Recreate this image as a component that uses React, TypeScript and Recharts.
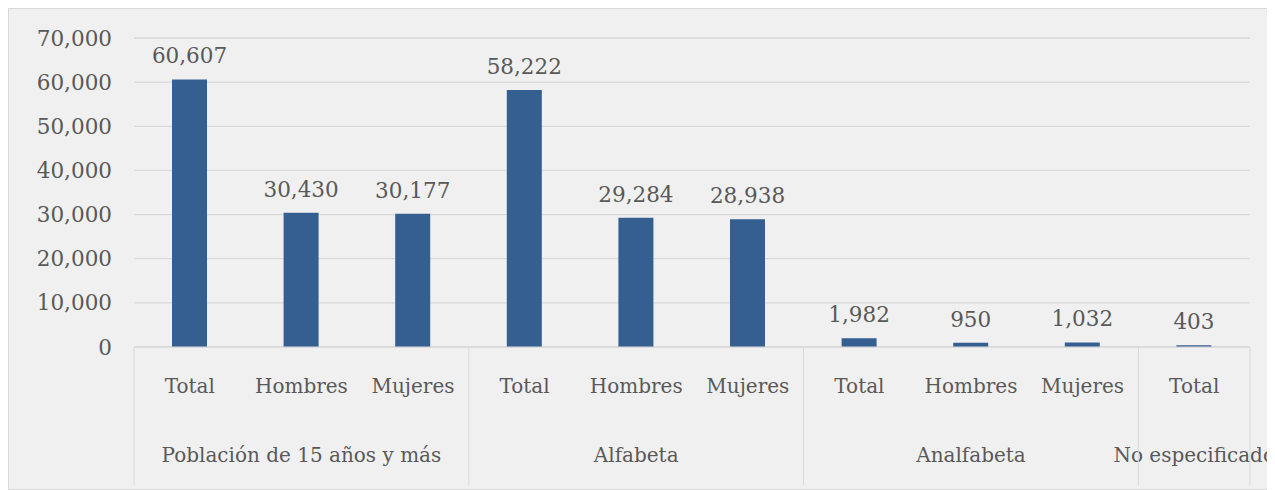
import React from 'react';
import { BarChart, Bar, XAxis, YAxis, CartesianGrid, LabelList } from 'recharts';

const subLabels = ['Total', 'Hombres', 'Mujeres', 'Total', 'Hombres', 'Mujeres', 'Total', 'Hombres', 'Mujeres', 'Total'];
const groupLabels = [
    'Población de 15 años y más', 'Población de 15 años y más', 'Población de 15 años y más',
    'Alfabeta', 'Alfabeta', 'Alfabeta',
    'Analfabeta', 'Analfabeta', 'Analfabeta',
    'No especificado',
];
const values = [60607, 30430, 30177, 58222, 29284, 28938, 1982, 950, 1032, 403];
const yTicks = [0, 10000, 20000, 30000, 40000, 50000, 60000, 70000];

const data = values.map((v, i) => ({ key: i, sub: subLabels[i], group: groupLabels[i], value: v }));

const FONT = "'DejaVu Serif', serif";
const TEXT = '#595959';
const LINE = '#d9d9d9';
const fmt = (v: number) => v.toLocaleString('en-US');

const CategoryTick = (props: any) => {
    const { x, y, payload, index } = props;
    const half = payload && payload.offset ? payload.offset : 55.8;
    const grp = groupLabels[index];
    const first = index === 0 || groupLabels[index - 1] !== grp;
    const last = index === groupLabels.length - 1;
    // middle item of the group carries the group label
    const members = groupLabels.map((g, i) => (g === grp ? i : -1)).filter((i) => i >= 0);
    const mid = members[Math.floor(members.length / 2)];
    return (
        <g>
            <text x={x} y={y + 46} textAnchor="middle" fill={TEXT} fontSize={20} fontFamily={FONT}>
                {subLabels[index]}
            </text>
            {index === mid && (
                <text x={x} y={y + 115} textAnchor="middle" fill={TEXT} fontSize={20} fontFamily={FONT}>
                    {grp}
                </text>
            )}
            {first && <line x1={x - half} x2={x - half} y1={y} y2={y + 138} stroke={LINE} strokeWidth={1} />}
            {last && <line x1={x + half} x2={x + half} y1={y} y2={y + 138} stroke={LINE} strokeWidth={1} />}
        </g>
    );
};

const App: React.FC = () => {
    return (
        <div style={{ width: 1267, height: 482, boxSizing: 'border-box', background: '#f0f0f0', border: `1px solid ${LINE}` }}>
            <BarChart width={1265} height={480} data={data} margin={{ top: 29, right: 24, left: 0, bottom: 0 }}>
                <CartesianGrid vertical={false} stroke={LINE} strokeWidth={1.3} />
                <XAxis
                    dataKey="key"
                    interval={0}
                    height={142}
                    tickLine={false}
                    tickSize={0}
                    tickMargin={0}
                    axisLine={{ stroke: LINE }}
                    tick={<CategoryTick />}
                />
                <YAxis
                    width={125}
                    domain={[0, 70000]}
                    ticks={yTicks}
                    tickFormatter={fmt}
                    axisLine={false}
                    tickLine={false}
                    tickMargin={16}
                    tick={{ fill: TEXT, fontSize: 21.5, fontFamily: FONT }}
                />
                <Bar dataKey="value" fill="#355f91" barSize={35} isAnimationActive={false}>
                    <LabelList dataKey="value" position="top" offset={16} formatter={(v: any) => fmt(Number(v))} fill={TEXT} fontSize={21.5} fontFamily={FONT} />
                </Bar>
            </BarChart>
        </div>
    );
};

export default App;
